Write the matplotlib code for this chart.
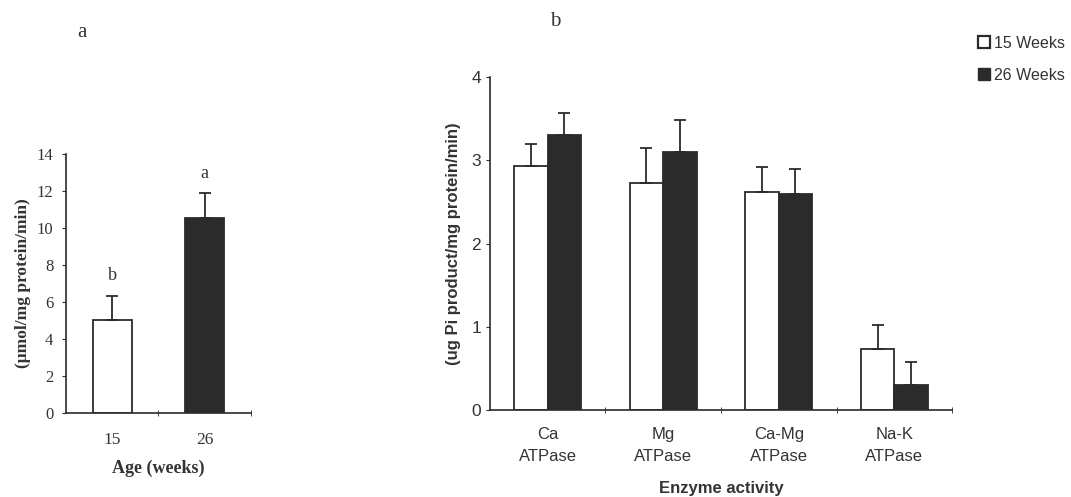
import numpy as np
import matplotlib.pyplot as plt
from matplotlib.lines import Line2D

# panel a: enzyme activity by age
ages = ["15", "26"]
age_means = [5.05, 10.55]
age_err = [1.3, 1.35]
age_letters = ["b", "a"]

# panel b: ATPase activities
enzymes = ["Ca\nATPase", "Mg\nATPase", "Ca-Mg\nATPase", "Na-K\nATPase"]
wk15_means = [2.93, 2.73, 2.62, 0.73]
wk15_err = [0.27, 0.42, 0.30, 0.29]
wk26_means = [3.30, 3.10, 2.60, 0.30]
wk26_err = [0.27, 0.38, 0.30, 0.28]
series_names = ["15 Weeks", "26 Weeks"]

dark = "#2b2b2b"
txt = "#333333"
serif = "Liberation Serif"
sans = "Liberation Sans"

fig = plt.figure(figsize=(10.71, 4.97), dpi=100)

# ---- panel a
ax1 = fig.add_axes([0.0616, 0.169, 0.1727, 0.521])
x1 = np.arange(len(ages))
cols = ["white", dark]
for i in x1:
    ax1.bar(i, age_means[i], width=0.42, color=cols[i], edgecolor=dark, linewidth=1.3, zorder=2)
    ax1.errorbar(i, age_means[i], yerr=[[0], [age_err[i]]], fmt="none", ecolor=dark,
                 elinewidth=1.3, capsize=4, capthick=1.3, zorder=3)
    ax1.text(i, age_means[i] + age_err[i] + 0.6, age_letters[i], ha="center", va="bottom",
             fontsize=13, family=serif, color=txt)
ax1.set_xlim(-0.5, 1.5)
ax1.set_ylim(0, 14)
ax1.set_yticks(np.arange(0, 15, 2))
ax1.set_xticks(x1)
ax1.set_xticklabels(ages, family=serif, fontsize=12.5, color=txt)
ax1.set_xticks([0.5, 1.5], minor=True)
ax1.tick_params(axis="x", which="major", length=0, pad=14)
ax1.tick_params(axis="x", which="minor", length=4, direction="inout", color=dark)
ax1.tick_params(axis="y", length=3, color=dark, labelsize=12, labelcolor=txt, pad=6)
for lab in ax1.get_yticklabels():
    lab.set_family(serif)
ax1.set_xlabel("Age (weeks)", family=serif, fontsize=13, fontweight="bold", color=txt, labelpad=8)
ax1.set_ylabel("(\u03bcmol/mg protein/min)", family=serif, fontsize=12.5, fontweight="bold",
               color=txt, labelpad=4)
for s in ["top", "right"]:
    ax1.spines[s].set_visible(False)
for s in ["left", "bottom"]:
    ax1.spines[s].set_color(dark)
    ax1.spines[s].set_linewidth(1.2)

# ---- panel b
ax2 = fig.add_axes([0.4575, 0.175, 0.4314, 0.670])
x2 = np.arange(len(enzymes))
w = 0.29
ax2.bar(x2 - w / 2, wk15_means, width=w, color="white", edgecolor=dark, linewidth=1.3, zorder=2)
ax2.bar(x2 + w / 2, wk26_means, width=w, color=dark, edgecolor=dark, linewidth=1.3, zorder=2)
ax2.errorbar(x2 - w / 2, wk15_means, yerr=[np.zeros(4), wk15_err], fmt="none", ecolor=dark,
             elinewidth=1.3, capsize=4, capthick=1.3, zorder=3)
ax2.errorbar(x2 + w / 2, wk26_means, yerr=[np.zeros(4), wk26_err], fmt="none", ecolor=dark,
             elinewidth=1.3, capsize=4, capthick=1.3, zorder=3)
ax2.set_xlim(-0.5, 3.5)
ax2.set_ylim(0, 4)
ax2.set_yticks(range(5))
ax2.set_xticks(x2)
ax2.set_xticklabels(enzymes, family=sans, fontsize=12, color=txt, linespacing=1.65)
ax2.set_xticks([0.5, 1.5, 2.5, 3.5], minor=True)
ax2.tick_params(axis="x", which="major", length=0, pad=12)
ax2.tick_params(axis="x", which="minor", length=4, direction="inout", color=dark)
ax2.tick_params(axis="y", length=3, color=dark, labelsize=12.5, labelcolor=txt)
for lab in ax2.get_yticklabels():
    lab.set_family(sans)
ax2.set_xlabel("Enzyme activity", family=sans, fontsize=12, fontweight="bold", color=txt, labelpad=12)
ax2.set_ylabel("(ug Pi product/mg protein/min)", family=sans, fontsize=12, fontweight="bold",
               color=txt, labelpad=7)
for s in ["top", "right"]:
    ax2.spines[s].set_visible(False)
for s in ["left", "bottom"]:
    ax2.spines[s].set_color(dark)
    ax2.spines[s].set_linewidth(1.2)

handles = [Line2D([], [], marker="s", linestyle="none", markersize=8, markerfacecolor="white",
                  markeredgecolor=dark, markeredgewidth=1.6),
           Line2D([], [], marker="s", linestyle="none", markersize=8, markerfacecolor=dark,
                  markeredgecolor=dark)]
leg = fig.legend(handles, series_names, loc="upper left", bbox_to_anchor=(0.899, 0.957),
                 frameon=False, handletextpad=0.25, labelspacing=1.05, handlelength=0.8,
                 prop={"family": sans, "size": 11.5})
for t in leg.get_texts():
    t.set_color(txt)

fig.text(0.072, 0.935, "a", family=serif, fontsize=15, color=txt, ha="left", va="center")
fig.text(0.518, 0.957, "b", family=serif, fontsize=15, color=txt, ha="center", va="center")

fig.savefig("out.png", dpi=100, facecolor="white")
